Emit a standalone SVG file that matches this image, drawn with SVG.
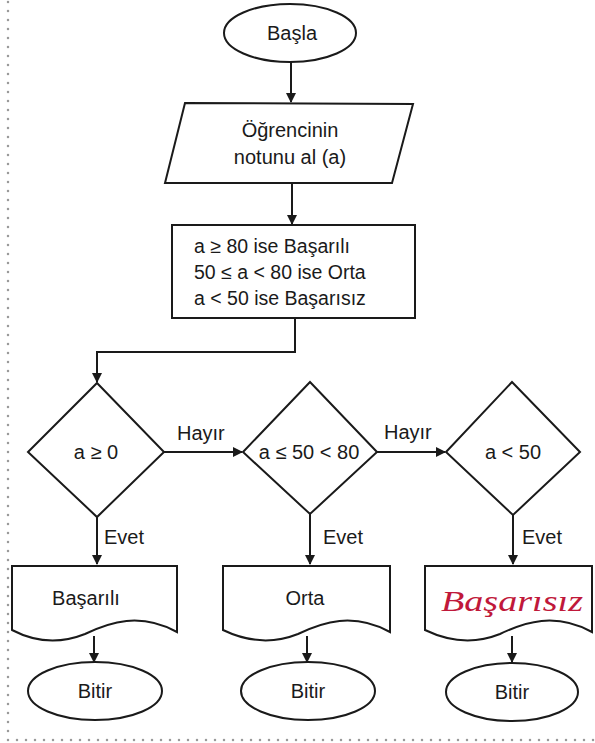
<svg xmlns="http://www.w3.org/2000/svg" width="595" height="743" viewBox="0 0 595 743">
  <style>
    .shape { fill: #fff; stroke: #1a1a1a; stroke-width: 2; }
    .edge { fill: none; stroke: #1a1a1a; stroke-width: 2; }
    .t { font-family: "Liberation Sans", Arial, sans-serif; font-size: 20px; fill: #1a1a1a; text-anchor: middle; }
    .lbl { font-family: "Liberation Sans", Arial, sans-serif; font-size: 20px; fill: #1a1a1a; }
    .rule { font-family: "Liberation Sans", Arial, sans-serif; font-size: 19.5px; fill: #1a1a1a; }
    .hand { font-family: "Liberation Serif", serif; font-size: 30px; fill: #c0183a; font-style: italic; }
    .frame { fill: none; stroke: #9a9a9a; stroke-width: 2.5; stroke-linecap: round; stroke-dasharray: 0 9; }
  </style>
  <defs>
    <marker id="arrow" viewBox="0 0 10 10" refX="9" refY="5" markerWidth="5" markerHeight="5" orient="auto" markerUnits="strokeWidth">
      <path d="M0,0 L10,5 L0,10 z" fill="#1a1a1a"/>
    </marker>
  </defs>

  <rect width="595" height="743" fill="#fff"/>

  <!-- dotted page frame -->
  <path class="frame" d="M8,2 V740 H595"/>

  <!-- connectors -->
  <g id="connectors">
    <path class="edge" d="M291,62 V102" marker-end="url(#arrow)"/>
    <path class="edge" d="M292,183 V224" marker-end="url(#arrow)"/>
    <path class="edge" d="M295,318 V352 H97 V382" marker-end="url(#arrow)"/>
    <path class="edge" d="M164,452 H242" marker-end="url(#arrow)"/>
    <path class="edge" d="M377,452 H445" marker-end="url(#arrow)"/>
    <path class="edge" d="M97,517 V564" marker-end="url(#arrow)"/>
    <path class="edge" d="M310,514 V564" marker-end="url(#arrow)"/>
    <path class="edge" d="M513,515 V564" marker-end="url(#arrow)"/>
    <path class="edge" d="M94,636 V662" marker-end="url(#arrow)"/>
    <path class="edge" d="M307,636 V662" marker-end="url(#arrow)"/>
    <path class="edge" d="M512,636 V662" marker-end="url(#arrow)"/>
    <text class="lbl" x="177" y="440">Hayır</text>
    <text class="lbl" x="384" y="439">Hayır</text>
    <text class="lbl" x="104" y="544">Evet</text>
    <text class="lbl" x="323" y="544">Evet</text>
    <text class="lbl" x="522" y="544">Evet</text>
  </g>

  <!-- start -->
  <g id="start">
    <ellipse class="shape" cx="290" cy="33" rx="66" ry="29"/>
    <text class="t" x="292" y="40">Başla</text>
  </g>

  <!-- input -->
  <g id="input">
    <path class="shape" d="M185,103 L413,104 L392,183 L165,183 Z"/>
    <text class="t" x="290" y="137">Öğrencinin</text>
    <text class="t" x="290" y="164">notunu al (a)</text>
  </g>

  <!-- rules -->
  <g id="rules">
    <rect class="shape" x="172" y="225" width="243" height="93"/>
    <text class="rule" x="194" y="253">a ≥ 80 ise Başarılı</text>
    <text class="rule" x="194" y="279">50 ≤ a &lt; 80 ise Orta</text>
    <text class="rule" x="194" y="305">a &lt; 50 ise Başarısız</text>
  </g>

  <!-- decisions -->
  <g id="decision1">
    <path class="shape" d="M97,383 L164,452 L97,517 L28,452 Z"/>
    <text class="t" x="96" y="459">a ≥ 0</text>
  </g>
  <g id="decision2">
    <path class="shape" d="M310,382 L377,452 L310,514 L243,452 Z"/>
    <text class="t" x="309" y="459">a ≤ 50 &lt; 80</text>
  </g>
  <g id="decision3">
    <path class="shape" d="M512,382 L580,452 L513,515 L446,452 Z"/>
    <text class="t" x="513" y="459">a &lt; 50</text>
  </g>

  <!-- outputs -->
  <g id="out1">
    <path class="shape" d="M12,566 H177 V632 C140,612 110,622 85,634 C60,644 35,642 12,630 Z"/>
    <text class="t" x="86" y="605">Başarılı</text>
  </g>
  <g id="out2">
    <path class="shape" d="M223,566 H390 V632 C353,612 323,622 298,634 C273,644 248,642 223,630 Z"/>
    <text class="t" x="305" y="605">Orta</text>
  </g>
  <g id="out3">
    <path class="shape" d="M425,566 H592 V632 C555,612 525,622 500,634 C475,644 450,642 425,630 Z"/>
    <text class="hand" x="441" y="611" textLength="142" lengthAdjust="spacingAndGlyphs">Başarısız</text>
  </g>

  <!-- terminals -->
  <g id="end1">
    <ellipse class="shape" cx="95" cy="691" rx="67" ry="29"/>
    <text class="t" x="95" y="698">Bitir</text>
  </g>
  <g id="end2">
    <ellipse class="shape" cx="308" cy="691" rx="67" ry="29"/>
    <text class="t" x="308" y="698">Bitir</text>
  </g>
  <g id="end3">
    <ellipse class="shape" cx="512" cy="692" rx="66" ry="29"/>
    <text class="t" x="512" y="699">Bitir</text>
  </g>
</svg>
